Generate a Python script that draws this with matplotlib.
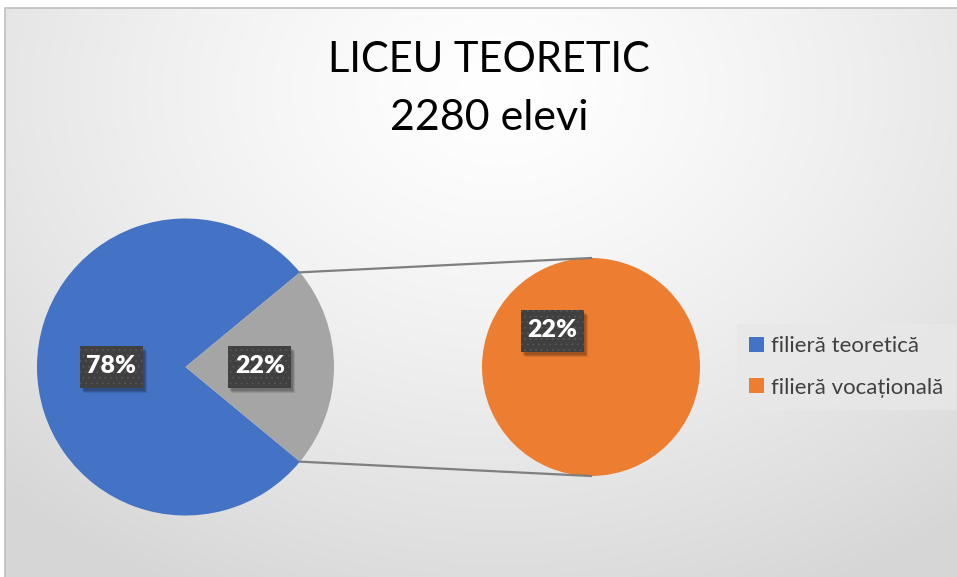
import numpy as np
import matplotlib
matplotlib.use("Agg")
import matplotlib.pyplot as plt
from matplotlib.patches import Rectangle, Patch

# ---- data ----
title_lines = ["LICEU TEORETIC", "2280 elevi"]
categories = ["filieră teoretică", "filieră vocațională"]
values = [78, 22]
colors = ["#4472C4", "#ED7D31"]
other_color = "#A5A5A5"
pct_labels = ["78%", "22%"]

W, H = 957, 577
plt.rcParams['font.family'] = ['Lato', 'DejaVu Sans']
plt.rcParams['hatch.linewidth'] = 0.6
fig = plt.figure(figsize=(W / 100, H / 100), dpi=100)
ax = fig.add_axes([0, 0, 1, 1])

def Y(y):
    return H - y

# ---- left pie ----
cL, rL = (185.5, Y(367)), 148.5
other_frac = values[1] / sum(values)
start = other_frac * 360 / 2
ax.pie(values, colors=[colors[0], other_color], startangle=start, center=cL,
       radius=rL, frame=True, wedgeprops=dict(linewidth=0))
# ---- right pie (breakdown of "other") ----
cR, rR = (591, Y(367)), 109
ax.pie([values[1]], colors=[colors[1]], startangle=90, center=cR, radius=rR,
       frame=True, wedgeprops=dict(linewidth=0))
ax.set_xlim(0, W)
ax.set_ylim(0, H)
ax.set_aspect('equal')
ax.axis('off')

# background gradient (chart area)
x0, y0 = 5, 8
xs = np.linspace(x0, W, 400)
ys = np.linspace(y0, H, 260)
XX, YY = np.meshgrid(xs, ys)
d = np.sqrt(((XX - 500) / 1.3) ** 2 + (YY - 90) ** 2)
t = np.clip(d / 560, 0, 1) ** 1.3
v = 1.0 - t * (1.0 - 0.84)
img = np.dstack([v, v, v])
ax.imshow(img, extent=(x0, W, Y(H), Y(y0)), origin='upper', zorder=0, aspect='auto')
ax.plot([x0, x0, W], [Y(H), Y(y0), Y(y0)], color='#BFBFBF', lw=1.2, zorder=1)
ax.set_xlim(0, W)
ax.set_ylim(0, H)

# connector lines
a = np.deg2rad(start)
for s in (1, -1):
    p1 = (cL[0] + rL * np.cos(a), cL[1] + s * rL * np.sin(a))
    p2 = (cR[0], cR[1] + s * rR)
    ax.plot([p1[0], p2[0]], [p1[1], p2[1]], color='#7F7F7F', lw=1.6, zorder=3)

# labels
BW, BH = 63, 42
def label(x, y, s):
    for k, al in ((5, 0.10), (4, 0.12), (3, 0.15)):
        ax.add_patch(Rectangle((x - BW / 2 + k - 1, y - BH / 2 - k), BW, BH,
                               facecolor='black', alpha=al, lw=0, zorder=4))
    ax.add_patch(Rectangle((x - BW / 2, y - BH / 2), BW, BH, facecolor='#404040',
                           edgecolor='#565656', hatch='...', lw=0, zorder=4.5))
    ax.text(x, y + 1, s, fontsize=18, fontweight='heavy', color='white',
            ha='center', va='center', zorder=5)

mid_blue = np.deg2rad(start + 360 * values[0] / sum(values) / 2)
label(cL[0] + 0.50 * rL * np.cos(mid_blue), cL[1] + 0.50 * rL * np.sin(mid_blue), pct_labels[0])
label(cL[0] + 0.50 * rL, cL[1], pct_labels[1])
ang = np.deg2rad(137)
label(cR[0] + 0.48 * rR * np.cos(ang), cR[1] + 0.48 * rR * np.sin(ang), pct_labels[1])

# title
ax.text(489, Y(60), title_lines[0], fontsize=30, ha='center', va='center', color='black', zorder=5)
ax.text(489, Y(118), title_lines[1], fontsize=31, ha='center', va='center', color='black', zorder=5)

# legend
handles = [Patch(facecolor=c, edgecolor='none') for c in colors]
leg = ax.legend(handles, categories, loc='center left',
                bbox_to_anchor=(737 / W, 1 - 367 / H), frameon=True,
                fontsize=16, labelcolor='#404040', handlelength=0.65, handleheight=0.65,
                handletextpad=0.35, labelspacing=0.95, borderpad=0.55, borderaxespad=0,
                fancybox=False)
leg.get_frame().set_facecolor('#E8E8E8')
leg.get_frame().set_edgecolor('none')
leg.set_zorder(6)

fig.savefig('out.png', dpi=100)
